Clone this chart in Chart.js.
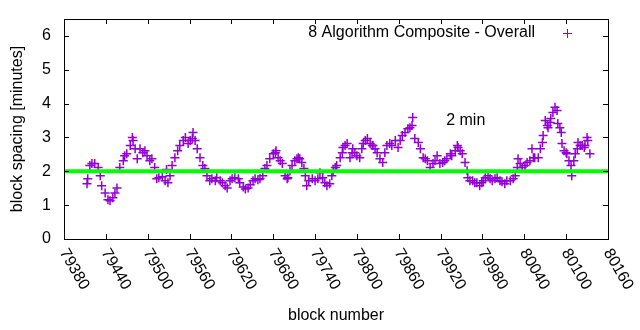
<!DOCTYPE html>
<html>
<head>
<meta charset="utf-8">
<script src="https://cdn.jsdelivr.net/npm/chart.js@4"></script>
<style>
  body { margin: 0; background: #fff; }
  canvas { display: block; }
</style>
</head>
<body>
<canvas id="myChart" width="640" height="330"></canvas>
<script>
const blocks = [
  79413, 79414, 79417, 79420, 79424, 79429, 79432, 79434, 79439, 79443,
  79446, 79450, 79453, 79456, 79460, 79465, 79467, 79470, 79475, 79478,
  79479, 79482, 79485, 79489, 79493, 79496, 79499, 79503, 79506, 79510,
  79513, 79516, 79521, 79525, 79527, 79529, 79532, 79535, 79539, 79543,
  79546, 79551, 79554, 79558, 79561, 79564, 79565, 79568, 79571, 79575,
  79579, 79582, 79585, 79589, 79592, 79597, 79599, 79604, 79607, 79611,
  79614, 79618, 79621, 79625, 79630, 79632, 79637, 79640, 79644, 79647,
  79651, 79654, 79658, 79661, 79665, 79668, 79671, 79675, 79680, 79683,
  79684, 79687, 79690, 79693, 79697, 79700, 79701, 79704, 79707, 79711,
  79714, 79716, 79718, 79721, 79724, 79726, 79728, 79731, 79736, 79740,
  79744, 79747, 79751, 79754, 79757, 79761, 79764, 79766, 79769, 79771,
  79776, 79779, 79780, 79783, 79786, 79790, 79793, 79794, 79797, 79800,
  79804, 79807, 79809, 79812, 79815, 79819, 79822, 79823, 79826, 79829,
  79833, 79837, 79840, 79843, 79847, 79850, 79855, 79859, 79862, 79865,
  79869, 79873, 79876, 79879, 79880, 79883, 79888, 79891, 79895, 79898,
  79901, 79905, 79909, 79912, 79915, 79919, 79923, 79926, 79929, 79934,
  79936, 79941, 79944, 79945, 79948, 79951, 79955, 79958, 79959, 79962,
  79966, 79969, 79972, 79976, 79979, 79981, 79984, 79988, 79991, 79994,
  79998, 80001, 80005, 80008, 80012, 80015, 80020, 80024, 80027, 80030,
  80031, 80034, 80037, 80041, 80044, 80048, 80051, 80053, 80055, 80060,
  80063, 80066, 80067, 80070, 80073, 80074, 80077, 80078, 80081, 80084,
  80087, 80088, 80091, 80093, 80094, 80097, 80100, 80101, 80104, 80107,
  80108, 80111, 80113, 80116, 80117, 80120, 80123, 80126, 80127, 80130,
  80131, 80134
];
const spacing = [
  1.63, 1.78, 2.17, 2.23, 2.23, 2.11, 1.87, 1.57, 1.36, 1.16,
  1.13, 1.22, 1.36, 1.51, 2.11, 2.31, 2.46, 2.52, 2.76, 3.00,
  2.91, 2.67, 2.37, 2.67, 2.55, 2.61, 2.46, 2.31, 2.37, 2.11,
  1.78, 1.81, 1.84, 1.72, 2.05, 1.66, 1.87, 2.17, 2.40, 2.61,
  2.76, 2.91, 3.00, 2.82, 2.91, 2.97, 3.15, 2.91, 2.67, 2.40,
  2.17, 2.08, 1.87, 1.72, 1.78, 1.72, 1.81, 1.72, 1.66, 1.57,
  1.51, 1.72, 1.78, 1.81, 1.78, 1.66, 1.54, 1.48, 1.51, 1.60,
  1.72, 1.78, 1.75, 1.78, 1.87, 2.08, 2.17, 2.37, 2.52, 2.55,
  2.61, 2.40, 2.31, 2.23, 1.87, 1.78, 1.81, 2.02, 2.17, 2.31,
  2.37, 2.40, 2.37, 2.26, 2.08, 1.87, 1.57, 1.72, 1.78, 1.72,
  1.78, 1.96, 1.81, 1.66, 1.57, 1.63, 1.87, 2.02, 2.11, 2.17,
  2.40, 2.55, 2.70, 2.76, 2.82, 2.40, 2.55, 2.67, 2.55, 2.46,
  2.40, 2.67, 2.82, 2.91, 2.97, 2.82, 2.76, 2.76, 2.67, 2.55,
  2.37, 2.26, 2.55, 2.76, 2.82, 2.76, 2.91, 2.70, 2.91, 3.06,
  3.15, 3.26, 3.29, 3.35, 3.59, 2.97, 2.85, 2.67, 2.40, 2.37,
  2.31, 2.11, 2.23, 2.31, 2.46, 2.23, 2.26, 2.31, 2.37, 2.52,
  2.46, 2.61, 2.76, 2.70, 2.61, 2.52, 2.26, 2.02, 1.81, 1.72,
  1.72, 1.66, 1.66, 1.57, 1.66, 1.72, 1.81, 1.87, 1.78, 1.72,
  1.78, 1.81, 1.72, 1.69, 1.63, 1.72, 1.72, 1.78, 1.87, 2.11,
  2.37, 2.23, 2.11, 2.17, 2.26, 2.31, 2.67, 2.40, 2.40, 2.40,
  2.67, 2.85, 3.06, 3.50, 3.35, 3.29, 3.44, 3.56, 3.74, 3.89,
  3.80, 3.41, 3.29, 3.15, 2.82, 2.61, 2.55, 2.52, 2.31, 2.17,
  1.87, 2.31, 2.52, 2.67, 2.85, 2.76, 2.76, 2.70, 2.76, 3.00,
  2.91, 2.52
];
const x_ticks = [79380, 79440, 79500, 79560, 79620, 79680, 79740, 79800, 79860, 79920, 79980, 80040, 80100, 80160];
const y_ticks = [0, 1, 2, 3, 4, 5, 6];
const target_minutes = 2;
const series_label = "8 Algorithm Composite - Overall";
const target_label = "2 min";
const target_label_at = { x: 79928, y: 3.5 };

const point_color = "rgb(148, 0, 211)";
const line_color = "rgb(0, 255, 0)";
const font = "16px 'Liberation Sans', Arial, sans-serif";

const points = blocks.map((b, i) => ({ x: b, y: spacing[i] }));

// gnuplot style frame, tics, labels and key
const frame = {
  id: "frame",
  afterDatasetsDraw(chart) {
    const { ctx, chartArea: a, scales } = chart;
    const xs = scales.x;
    const ys = scales.y;
    ctx.save();
    ctx.strokeStyle = "#000";
    ctx.lineWidth = 1;
    ctx.strokeRect(Math.round(a.left) + 0.5, Math.round(a.top) + 0.5,
      Math.round(a.right - a.left), Math.round(a.bottom - a.top));
    const tl = 5;
    ctx.beginPath();
    x_ticks.forEach((t) => {
      const px = Math.round(xs.getPixelForValue(t)) + 0.5;
      ctx.moveTo(px, a.bottom); ctx.lineTo(px, a.bottom - tl);
      ctx.moveTo(px, a.top); ctx.lineTo(px, a.top + tl);
    });
    y_ticks.forEach((t) => {
      const py = Math.round(ys.getPixelForValue(t)) + 0.5;
      ctx.moveTo(a.left, py); ctx.lineTo(a.left + tl, py);
      ctx.moveTo(a.right, py); ctx.lineTo(a.right - tl, py);
    });
    ctx.stroke();

    ctx.fillStyle = "#000";
    ctx.font = font;
    ctx.textAlign = "right";
    ctx.textBaseline = "middle";
    y_ticks.forEach((t) => {
      ctx.fillText(String(t), a.left - 13, ys.getPixelForValue(t));
    });
    ctx.textAlign = "left";
    x_ticks.forEach((t) => {
      ctx.save();
      ctx.translate(xs.getPixelForValue(t) - 1, a.bottom + 11);
      ctx.rotate(Math.PI / 3);
      ctx.fillText(String(t), 0, 0);
      ctx.restore();
    });

    ctx.textAlign = "center";
    ctx.fillText("block number", (a.left + a.right) / 2, 316);
    ctx.save();
    ctx.translate(18, (a.top + a.bottom) / 2);
    ctx.rotate(-Math.PI / 2);
    ctx.fillText("block spacing [minutes]", 0, 0);
    ctx.restore();

    ctx.textAlign = "left";
    ctx.fillText(target_label, xs.getPixelForValue(target_label_at.x), ys.getPixelForValue(target_label_at.y));

    // key
    ctx.textAlign = "right";
    ctx.fillText(series_label, 535, 33);
    ctx.strokeStyle = point_color;
    ctx.beginPath();
    ctx.moveTo(563, 33.5); ctx.lineTo(572, 33.5);
    ctx.moveTo(567.5, 29); ctx.lineTo(567.5, 38);
    ctx.stroke();
    ctx.restore();
  },
};

const ctx = document.getElementById("myChart").getContext("2d");
const myChart = new Chart(ctx, {
  type: "scatter",
  data: {
    datasets: [
      {
        label: "2 min",
        type: "line",
        data: [{ x: x_ticks[0], y: target_minutes }, { x: x_ticks[x_ticks.length - 1], y: target_minutes }],
        borderColor: line_color,
        borderWidth: 4,
        pointRadius: 0,
        order: 0,
      },
      {
        label: series_label,
        data: points,
        pointStyle: "cross",
        pointRadius: 4.5,
        borderColor: point_color,
        backgroundColor: point_color,
        borderWidth: 1.5,
        order: 1,
      },
    ],
  },
  options: {
    responsive: false,
    animation: false,
    layout: { padding: { left: 64, right: 32, top: 19, bottom: 91 } },
    plugins: { legend: { display: false }, tooltip: { enabled: false } },
    scales: {
      x: { type: "linear", min: 79380, max: 80160, display: false },
      y: { min: 0, max: 6.5, display: false },
    },
  },
  plugins: [frame],
});
</script>
</body>
</html>
